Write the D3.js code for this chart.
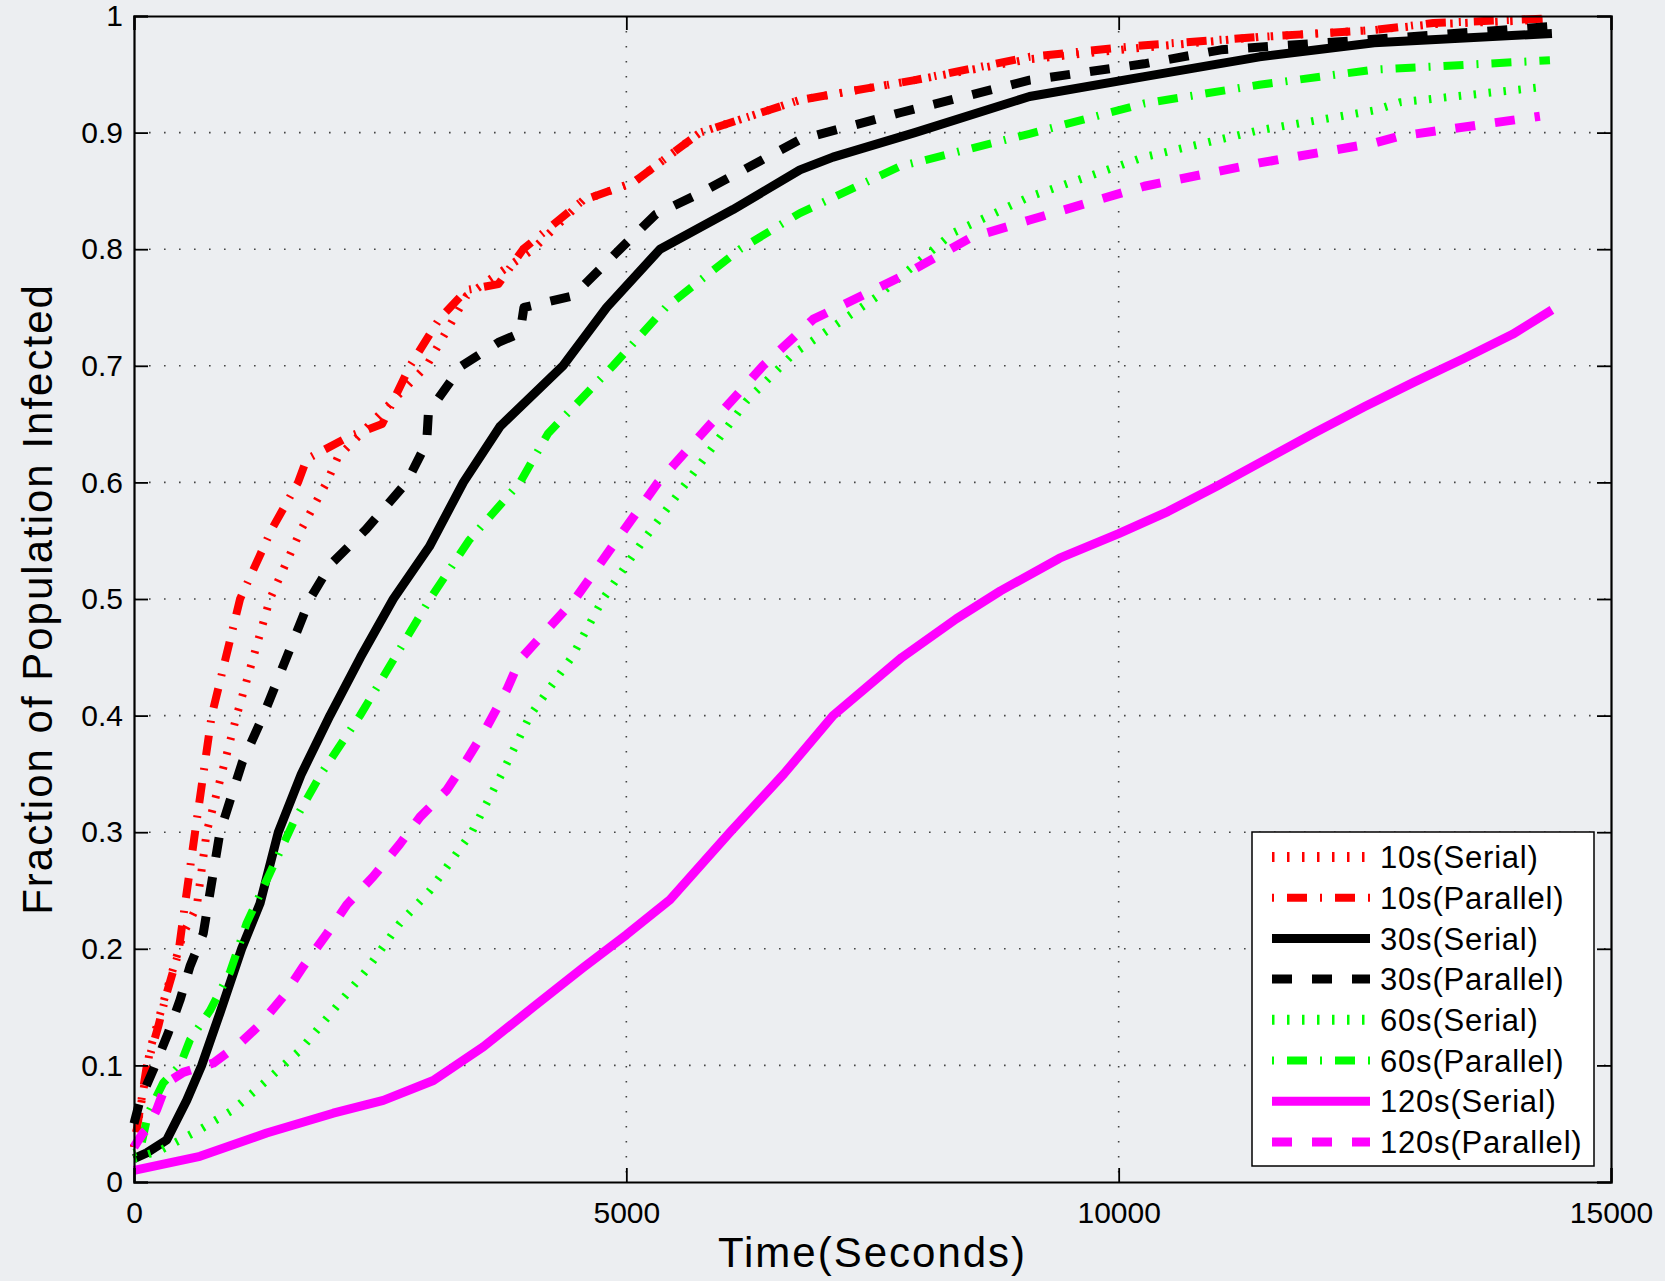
<!DOCTYPE html>
<html>
<head>
<meta charset="utf-8">
<script src="https://cdn.jsdelivr.net/npm/d3@7"></script>
<style>
  body { margin: 0; background: #eceef1; }
  text { font-family: "Liberation Sans", Arial, Helvetica, sans-serif; fill: #000; }
</style>
</head>
<body>
<div id="chart"></div>
<script>
var svgWidth = 1665;
var svgHeight = 1281;

// series values: [seconds, fraction infected]
var serial10 = [[0,0.03],[162,0.113],[315,0.159],[500,0.213],[637,0.236],[738,0.30],[1043,0.40],[1381,0.50],[1700,0.56],[1957,0.60],[2073,0.622],[2400,0.65],[2972,0.70],[3378,0.76],[4053,0.80],[4560,0.842],[5068,0.857],[5748,0.90],[6763,0.928],[7930,0.945],[9095,0.963],[10265,0.973],[11430,0.982],[12595,0.988],[13195,0.993],[14400,0.997]];
var parallel10 = [[0,0.03],[129,0.099],[245,0.133],[332,0.162],[450,0.196],[500,0.227],[620,0.30],[789,0.40],[1077,0.50],[1400,0.56],[1666,0.60],[1754,0.62],[2200,0.64],[2520,0.65],[2803,0.70],[3100,0.74],[3378,0.765],[3700,0.77],[3952,0.80],[4560,0.842],[5068,0.857],[5748,0.90],[6763,0.928],[7930,0.945],[9095,0.965],[10265,0.975],[11430,0.982],[12595,0.988],[13195,0.994],[14400,0.998]];
var serial30 = [[0,0.02],[129,0.025],[332,0.036],[535,0.07],[687,0.10],[873,0.145],[1093,0.20],[1280,0.239],[1466,0.30],[1700,0.35],[1990,0.40],[2300,0.45],[2633,0.50],[3000,0.545],[3345,0.60],[3717,0.648],[4357,0.70],[4800,0.75],[5342,0.80],[6083,0.834],[6763,0.868],[7099,0.879],[7930,0.90],[9095,0.931],[10260,0.948],[11430,0.965],[12595,0.977],[14400,0.985]];
var parallel30 = [[0,0.05],[61,0.07],[195,0.096],[348,0.128],[467,0.156],[569,0.185],[703,0.213],[873,0.30],[1100,0.36],[1313,0.40],[1550,0.45],[1787,0.50],[2000,0.53],[2360,0.56],[2769,0.60],[2972,0.634],[2990,0.66],[3328,0.70],[3700,0.72],[3920,0.728],[3960,0.75],[4460,0.76],[4935,0.80],[5300,0.83],[5748,0.848],[6763,0.894],[7779,0.917],[9095,0.945],[10260,0.959],[11040,0.971],[12595,0.98],[14400,0.991]];
var serial60 = [[0,0.02],[264,0.027],[670,0.045],[1008,0.062],[1347,0.087],[1686,0.113],[2023,0.147],[2363,0.182],[2701,0.222],[3006,0.25],[3430,0.30],[3734,0.35],[4022,0.40],[4445,0.45],[4763,0.50],[5170,0.55],[5613,0.60],[6222,0.67],[6693,0.71],[7540,0.759],[8318,0.814],[9095,0.845],[10260,0.879],[11430,0.902],[12595,0.919],[12857,0.926],[14300,0.939]];
var parallel60 = [[0,0.025],[61,0.027],[145,0.059],[297,0.085],[467,0.10],[569,0.122],[772,0.147],[975,0.18],[1144,0.222],[1381,0.265],[1617,0.308],[1900,0.35],[2295,0.40],[2650,0.45],[3006,0.50],[3400,0.55],[3920,0.60],[4205,0.642],[4865,0.70],[5400,0.75],[6154,0.80],[6763,0.831],[7779,0.871],[9095,0.899],[10260,0.925],[11430,0.941],[12595,0.954],[14380,0.962]];
var serial120 = [[0,0.01],[670,0.022],[1347,0.042],[2023,0.059],[2532,0.07],[3040,0.087],[3548,0.116],[4055,0.15],[4563,0.184],[5000,0.212],[5443,0.242],[6053,0.30],[6600,0.35],[7099,0.40],[7800,0.45],[8350,0.483],[8800,0.507],[9400,0.535],[10000,0.556],[10500,0.575],[11000,0.597],[11500,0.62],[12000,0.643],[12500,0.665],[13000,0.686],[13500,0.706],[14000,0.727],[14400,0.748]];
var parallel120 = [[0,0.03],[91,0.042],[129,0.045],[230,0.062],[332,0.085],[500,0.094],[806,0.102],[1077,0.119],[1280,0.135],[1515,0.159],[1720,0.185],[1960,0.213],[2163,0.238],[2430,0.262],[2701,0.29],[2905,0.313],[3175,0.336],[3379,0.362],[3582,0.39],[3785,0.422],[3920,0.448],[4479,0.50],[4900,0.55],[5322,0.60],[5951,0.659],[6388,0.70],[6900,0.74],[7779,0.776],[8500,0.81],[9095,0.825],[10260,0.854],[11430,0.874],[12595,0.891],[12857,0.897],[14278,0.914]];

var seriesNames = ["10s(Serial)", "10s(Parallel)", "30s(Serial)", "30s(Parallel)", "60s(Serial)", "60s(Parallel)", "120s(Serial)", "120s(Parallel)"];
var seriesData = [serial10, parallel10, serial30, parallel30, serial60, parallel60, serial120, parallel120];

var xTicks = [0, 5000, 10000, 15000];
var yTicks = [0, 0.1, 0.2, 0.3, 0.4, 0.5, 0.6, 0.7, 0.8, 0.9, 1];

// line styles, matlab-ish
var styles = [
  { color: "#ff0000", width: 8, dash: "2.5,12.5", legendWidth: 10 },
  { color: "#ff0000", width: 8, dash: "2,13,20,13", legendWidth: 8 },
  { color: "#000000", width: 9, dash: null, legendWidth: 9 },
  { color: "#000000", width: 9, dash: "20,20", legendWidth: 9 },
  { color: "#00ff00", width: 8, dash: "2.5,12.5", legendWidth: 10 },
  { color: "#00ff00", width: 8, dash: "2,13,20,13", legendWidth: 8 },
  { color: "#ff00ff", width: 9, dash: null, legendWidth: 9 },
  { color: "#ff00ff", width: 9, dash: "20,20", legendWidth: 9 }
];

var margin = { left: 134, right: 54, top: 16, bottom: 99 };
var width = svgWidth - margin.left - margin.right;
var height = svgHeight - margin.top - margin.bottom;

var svg = d3.select("#chart")
  .append("svg")
  .attr("width", svgWidth)
  .attr("height", svgHeight);

var g = svg.append("g")
  .attr("transform", "translate(" + margin.left + "," + margin.top + ")");

var x = d3.scaleLinear().domain([0, 15000]).range([0, width]);
var y = d3.scaleLinear().domain([0, 1]).range([height, 0]);

// dotted grid
g.append("g")
  .attr("class", "grid")
  .selectAll("line.h")
  .data(yTicks.slice(1, -1))
  .enter().append("line")
  .attr("x1", 0).attr("x2", width)
  .attr("y1", d => y(d)).attr("y2", d => y(d));
g.append("g")
  .attr("class", "grid")
  .selectAll("line.v")
  .data(xTicks.slice(1, -1))
  .enter().append("line")
  .attr("y1", 0).attr("y2", height)
  .attr("x1", d => x(d)).attr("x2", d => x(d));
g.selectAll(".grid line")
  .attr("stroke", "#444")
  .attr("stroke-width", 1.6)
  .attr("stroke-dasharray", "1.6,13.4");

// lines
var line = d3.line()
  .x(d => x(d[0]))
  .y(d => y(d[1]));

seriesData.forEach(function(data, i) {
  var s = styles[i];
  g.append("path")
    .datum(data)
    .attr("fill", "none")
    .attr("stroke", s.color)
    .attr("stroke-width", s.width)
    .attr("stroke-dasharray", s.dash)
    .attr("stroke-linejoin", "round")
    .attr("d", line);
});

// axes, ticks inside
var xAxis = g.append("g")
  .attr("transform", "translate(0," + height + ")")
  .call(d3.axisBottom(x).tickValues(xTicks).tickSize(-14).tickPadding(20).tickFormat(d3.format("d")));
var yAxis = g.append("g")
  .call(d3.axisLeft(y).tickValues(yTicks).tickSize(-14).tickPadding(11).tickFormat(d => d === 0 || d === 1 ? d : d.toFixed(1)));
var xTop = g.append("g")
  .call(d3.axisTop(x).tickValues(xTicks).tickSize(-14).tickFormat(""));
var yRight = g.append("g")
  .attr("transform", "translate(" + width + ",0)")
  .call(d3.axisRight(y).tickValues(yTicks).tickSize(-14).tickFormat(""));

[xAxis, yAxis, xTop, yRight].forEach(function(a) {
  a.select(".domain").attr("stroke", "#000").attr("stroke-width", 2.2);
  a.selectAll(".tick line").attr("stroke", "#000").attr("stroke-width", 1.8);
  a.selectAll("text").attr("font-size", 30).attr("fill", "#000")
    .attr("font-family", "'Liberation Sans', Arial, sans-serif");
});

// axis titles
svg.append("text")
  .attr("x", margin.left + width / 2)
  .attr("y", 1267)
  .attr("text-anchor", "middle")
  .attr("font-size", 42)
  .attr("letter-spacing", 2)
  .text("Time(Seconds)");

svg.append("text")
  .attr("transform", "translate(52," + (margin.top + height / 2) + ") rotate(-90)")
  .attr("text-anchor", "middle")
  .attr("font-size", 42)
  .attr("letter-spacing", 2)
  .text("Fraction of Population Infected");

// legend
var legend = svg.append("g");
legend.append("rect")
  .attr("x", 1252).attr("y", 832)
  .attr("width", 342).attr("height", 334)
  .attr("fill", "#fff")
  .attr("stroke", "#000")
  .attr("stroke-width", 1.5);

seriesNames.forEach(function(name, i) {
  var s = styles[i];
  var cy = 857 + i * 40.7;
  legend.append("line")
    .attr("x1", 1272).attr("x2", 1370)
    .attr("y1", cy).attr("y2", cy)
    .attr("stroke", s.color)
    .attr("stroke-width", s.legendWidth)
    .attr("stroke-dasharray", s.dash);
  legend.append("text")
    .attr("x", 1380)
    .attr("y", cy)
    .attr("dy", "0.36em")
    .attr("font-size", 31)
    .attr("letter-spacing", 0.8)
    .text(name);
});
</script>
</body>
</html>
